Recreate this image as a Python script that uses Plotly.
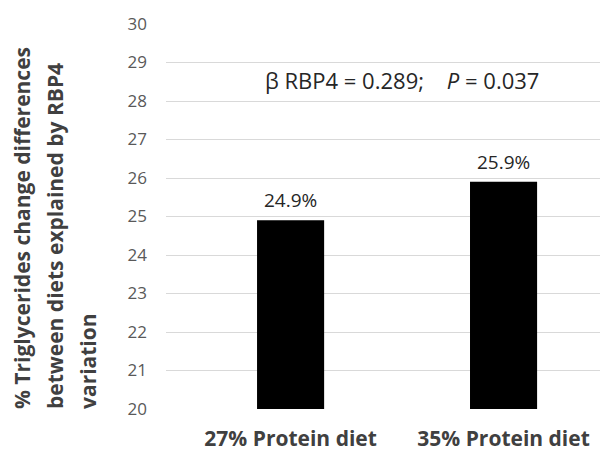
import plotly.graph_objects as go

categories = ["27% Protein diet", "35% Protein diet"]
values = [24.9, 25.9]
labels = ["24.9%", "25.9%"]
yticks = list(range(20, 31))
ytitle_lines = ["% Triglycerides change differences",
                "between diets explained by RBP4",
                "variation"]

BASE = 20
x = list(range(len(categories)))

fig = go.Figure()
fig.add_trace(go.Bar(
    x=x, y=[v - BASE for v in values], base=BASE, width=0.315,
    marker=dict(color="black", line=dict(width=0)),
    hoverinfo="skip",
))

for xi, v, lab in zip(x, values, labels):
    fig.add_annotation(
        x=xi, y=v, xref="x", yref="y", yanchor="middle", yshift=20,
        text=lab, showarrow=False,
        font=dict(family="Open Sans", size=19, color="#262626"),
    )

fig.add_annotation(
    x=0.525, y=28.55, xref="x", yref="y",
    text="β RBP4 = 0.289;    <i>P</i> = 0.037",
    showarrow=False,
    font=dict(family="Open Sans", size=22, color="#262626"),
)

for i, line in enumerate(ytitle_lines):
    fig.add_annotation(
        x=0, xref="paper", xshift=-166 + 22 + 33 * i,
        y=20, yref="y", yshift=-2,
        text="<b>" + line + "</b>",
        textangle=-90, showarrow=False,
        xanchor="center", yanchor="bottom",
        font=dict(family="Open Sans", size=21, color="#404040"),
    )

fig.update_layout(
    width=608, height=453,
    margin=dict(l=158, r=0, t=16, b=52, autoexpand=False),
    paper_bgcolor="white", plot_bgcolor="white",
    showlegend=False,
    xaxis=dict(
        range=[-0.585, 1.528],
        tickmode="array", tickvals=x,
        ticktext=["<b>" + c + "</b>" for c in categories],
        tickfont=dict(family="Open Sans", size=21, color="#404040"),
        showgrid=False, showline=False, zeroline=False, ticks="",
        automargin=False, ticklabelstandoff=15,
    ),
    yaxis=dict(
        range=[20, 30],
        tickmode="array", tickvals=yticks,
        ticktext=[str(t) for t in yticks],
        tickfont=dict(family="Open Sans", size=17, color="#595959"),
        showgrid=True, gridcolor="#d9d9d9", gridwidth=1,
        zeroline=False, showline=False, ticks="",
        ticklabelstandoff=18, automargin=False,
    ),
)

fig.write_html("out.html")
